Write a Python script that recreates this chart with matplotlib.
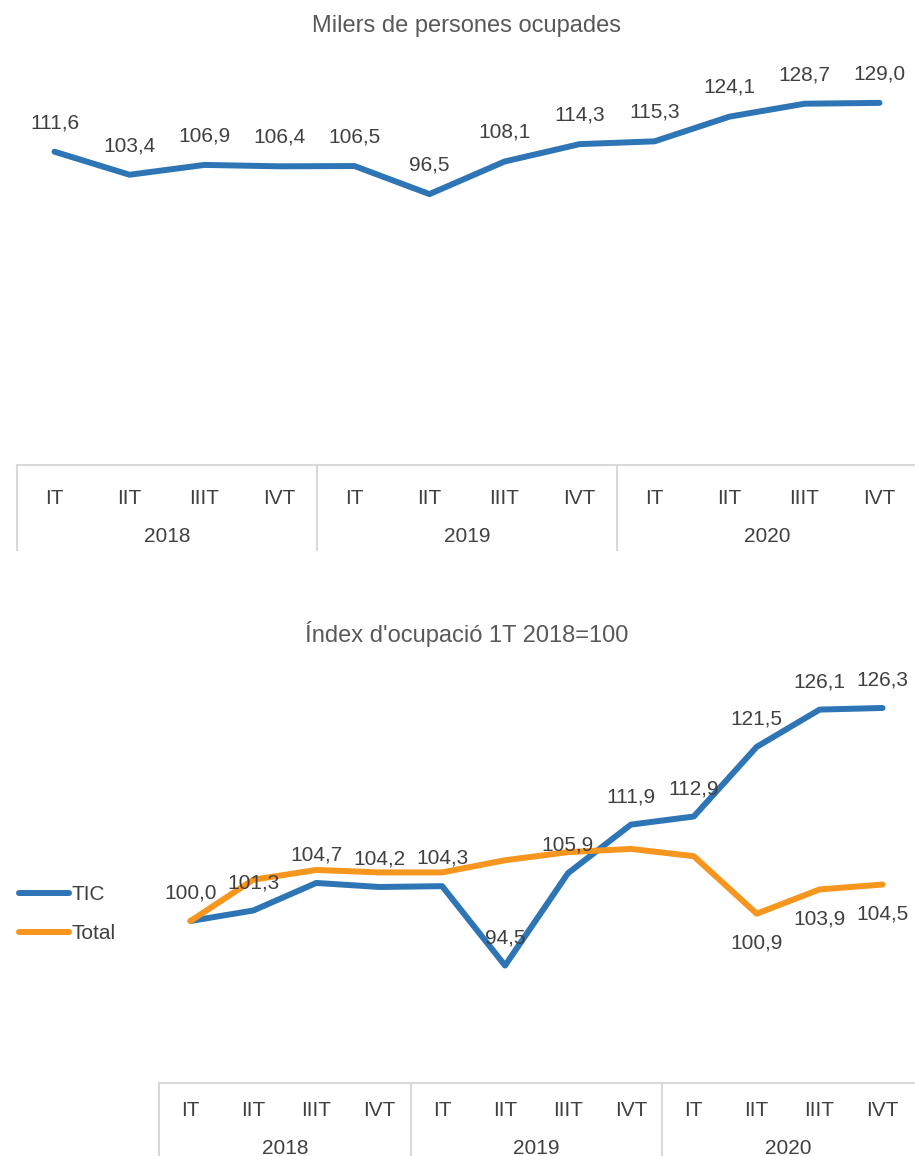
import matplotlib
matplotlib.use('Agg')
import matplotlib.pyplot as plt
from matplotlib.transforms import blended_transform_factory

plt.rcParams['font.family'] = ['Liberation Sans', 'DejaVu Sans']

quarters = ['IT', 'IIT', 'IIIT', 'IVT'] * 3
years = ['2018', '2019', '2020']

ocupats = [111.6, 103.4, 106.9, 106.4, 106.5, 96.5, 108.1, 114.3, 115.3, 124.1, 128.7, 129.0]
index_tic = [100.0, 101.3, 104.7, 104.2, 104.3, 94.5, 105.9, 111.9, 112.9, 121.5, 126.1, 126.3]
index_total = [100.0, 105.1, 106.3, 106.0, 106.0, 107.5, 108.5, 108.9, 108.0, 100.9, 103.9, 104.5]

# which points carry a data label
labels_tic = list(range(12))
labels_total = [9, 10, 11]

BLUE = '#2E75B6'
ORANGE = '#F7961E'
TEXT = '#404040'
GRID = '#D9D9D9'

W, H = 915, 1156
fig = plt.figure(figsize=(W / 100, H / 100), dpi=100)


def fmt(v):
    return f'{v:.1f}'.replace('.', ',')


def px_axes(left, right, top, bottom):
    return fig.add_axes([left / W, 1 - bottom / H, (right - left) / W, (bottom - top) / H])


def category_table(ax, y_top, y_quarter, y_year, y_end):
    tr = blended_transform_factory(ax.transData, fig.transFigure)
    fy = lambda p: 1 - p / H
    ax.plot([0, 12], [fy(y_top)] * 2, color=GRID, lw=1.5, transform=tr, clip_on=False)
    for x in [0, 4, 8]:
        ax.plot([x, x], [fy(y_top), fy(y_end)], color=GRID, lw=1.5, transform=tr, clip_on=False)
    for i, q in enumerate(quarters):
        ax.text(i + 0.5, fy(y_quarter), q, transform=tr, ha='center', va='center',
                fontsize=15, color=TEXT)
    for j, y in enumerate(years):
        ax.text(4 * j + 2, fy(y_year), y, transform=tr, ha='center', va='center',
                fontsize=15, color=TEXT)


def clean(ax, ymin, ymax):
    ax.set_xlim(0, 12)
    ax.set_ylim(ymin, ymax)
    ax.axis('off')


xs = [i + 0.5 for i in range(12)]

# top chart
ax1 = px_axes(17, 917, 72, 465)
clean(ax1, 0, 140)
ax1.plot(xs, ocupats, color=BLUE, lw=4.3, solid_capstyle='round', solid_joinstyle='round')
for x, v in zip(xs, ocupats):
    ax1.annotate(fmt(v), (x, v), xytext=(0, 21), textcoords='offset points',
                 ha='center', va='center', fontsize=15, color=TEXT)
category_table(ax1, 465, 498, 537, 550)
fig.text(467 / W, 1 - 26 / H, 'Milers de persones ocupades', ha='center', va='center',
         fontsize=17, color='#595959')

# bottom chart
ax2 = px_axes(159, 914, 597, 1083)
clean(ax2, 80, 140)
ax2.plot(xs, index_tic, color=BLUE, lw=4.3, solid_capstyle='round', solid_joinstyle='round',
         label='TIC', zorder=2)
ax2.plot(xs, index_total, color=ORANGE, lw=4.3, solid_capstyle='round', solid_joinstyle='round',
         label='Total', zorder=3)
for i in labels_tic:
    ax2.annotate(fmt(index_tic[i]), (xs[i], index_tic[i]), xytext=(0, 20),
                 textcoords='offset points', ha='center', va='center',
                 fontsize=15, color=TEXT, zorder=5)
for i in labels_total:
    ax2.annotate(fmt(index_total[i]), (xs[i], index_total[i]), xytext=(0, -21),
                 textcoords='offset points', ha='center', va='center',
                 fontsize=15, color=TEXT, zorder=5)
category_table(ax2, 1083, 1110, 1148, 1160)
fig.text(467 / W, 1 - 634 / H, "Índex d'ocupació 1T 2018=100", ha='center', va='center',
         fontsize=17, color='#595959')

leg = fig.legend(loc='center left', bbox_to_anchor=(0 / W, 1 - 914 / H), frameon=False,
                 fontsize=15, handlelength=2.4, handletextpad=0.15, labelspacing=0.95,
                 labelcolor=TEXT)
for line in leg.get_lines():
    line.set_linewidth(4.3)
    line.set_solid_capstyle('round')

fig.savefig('out.png', dpi=100)
